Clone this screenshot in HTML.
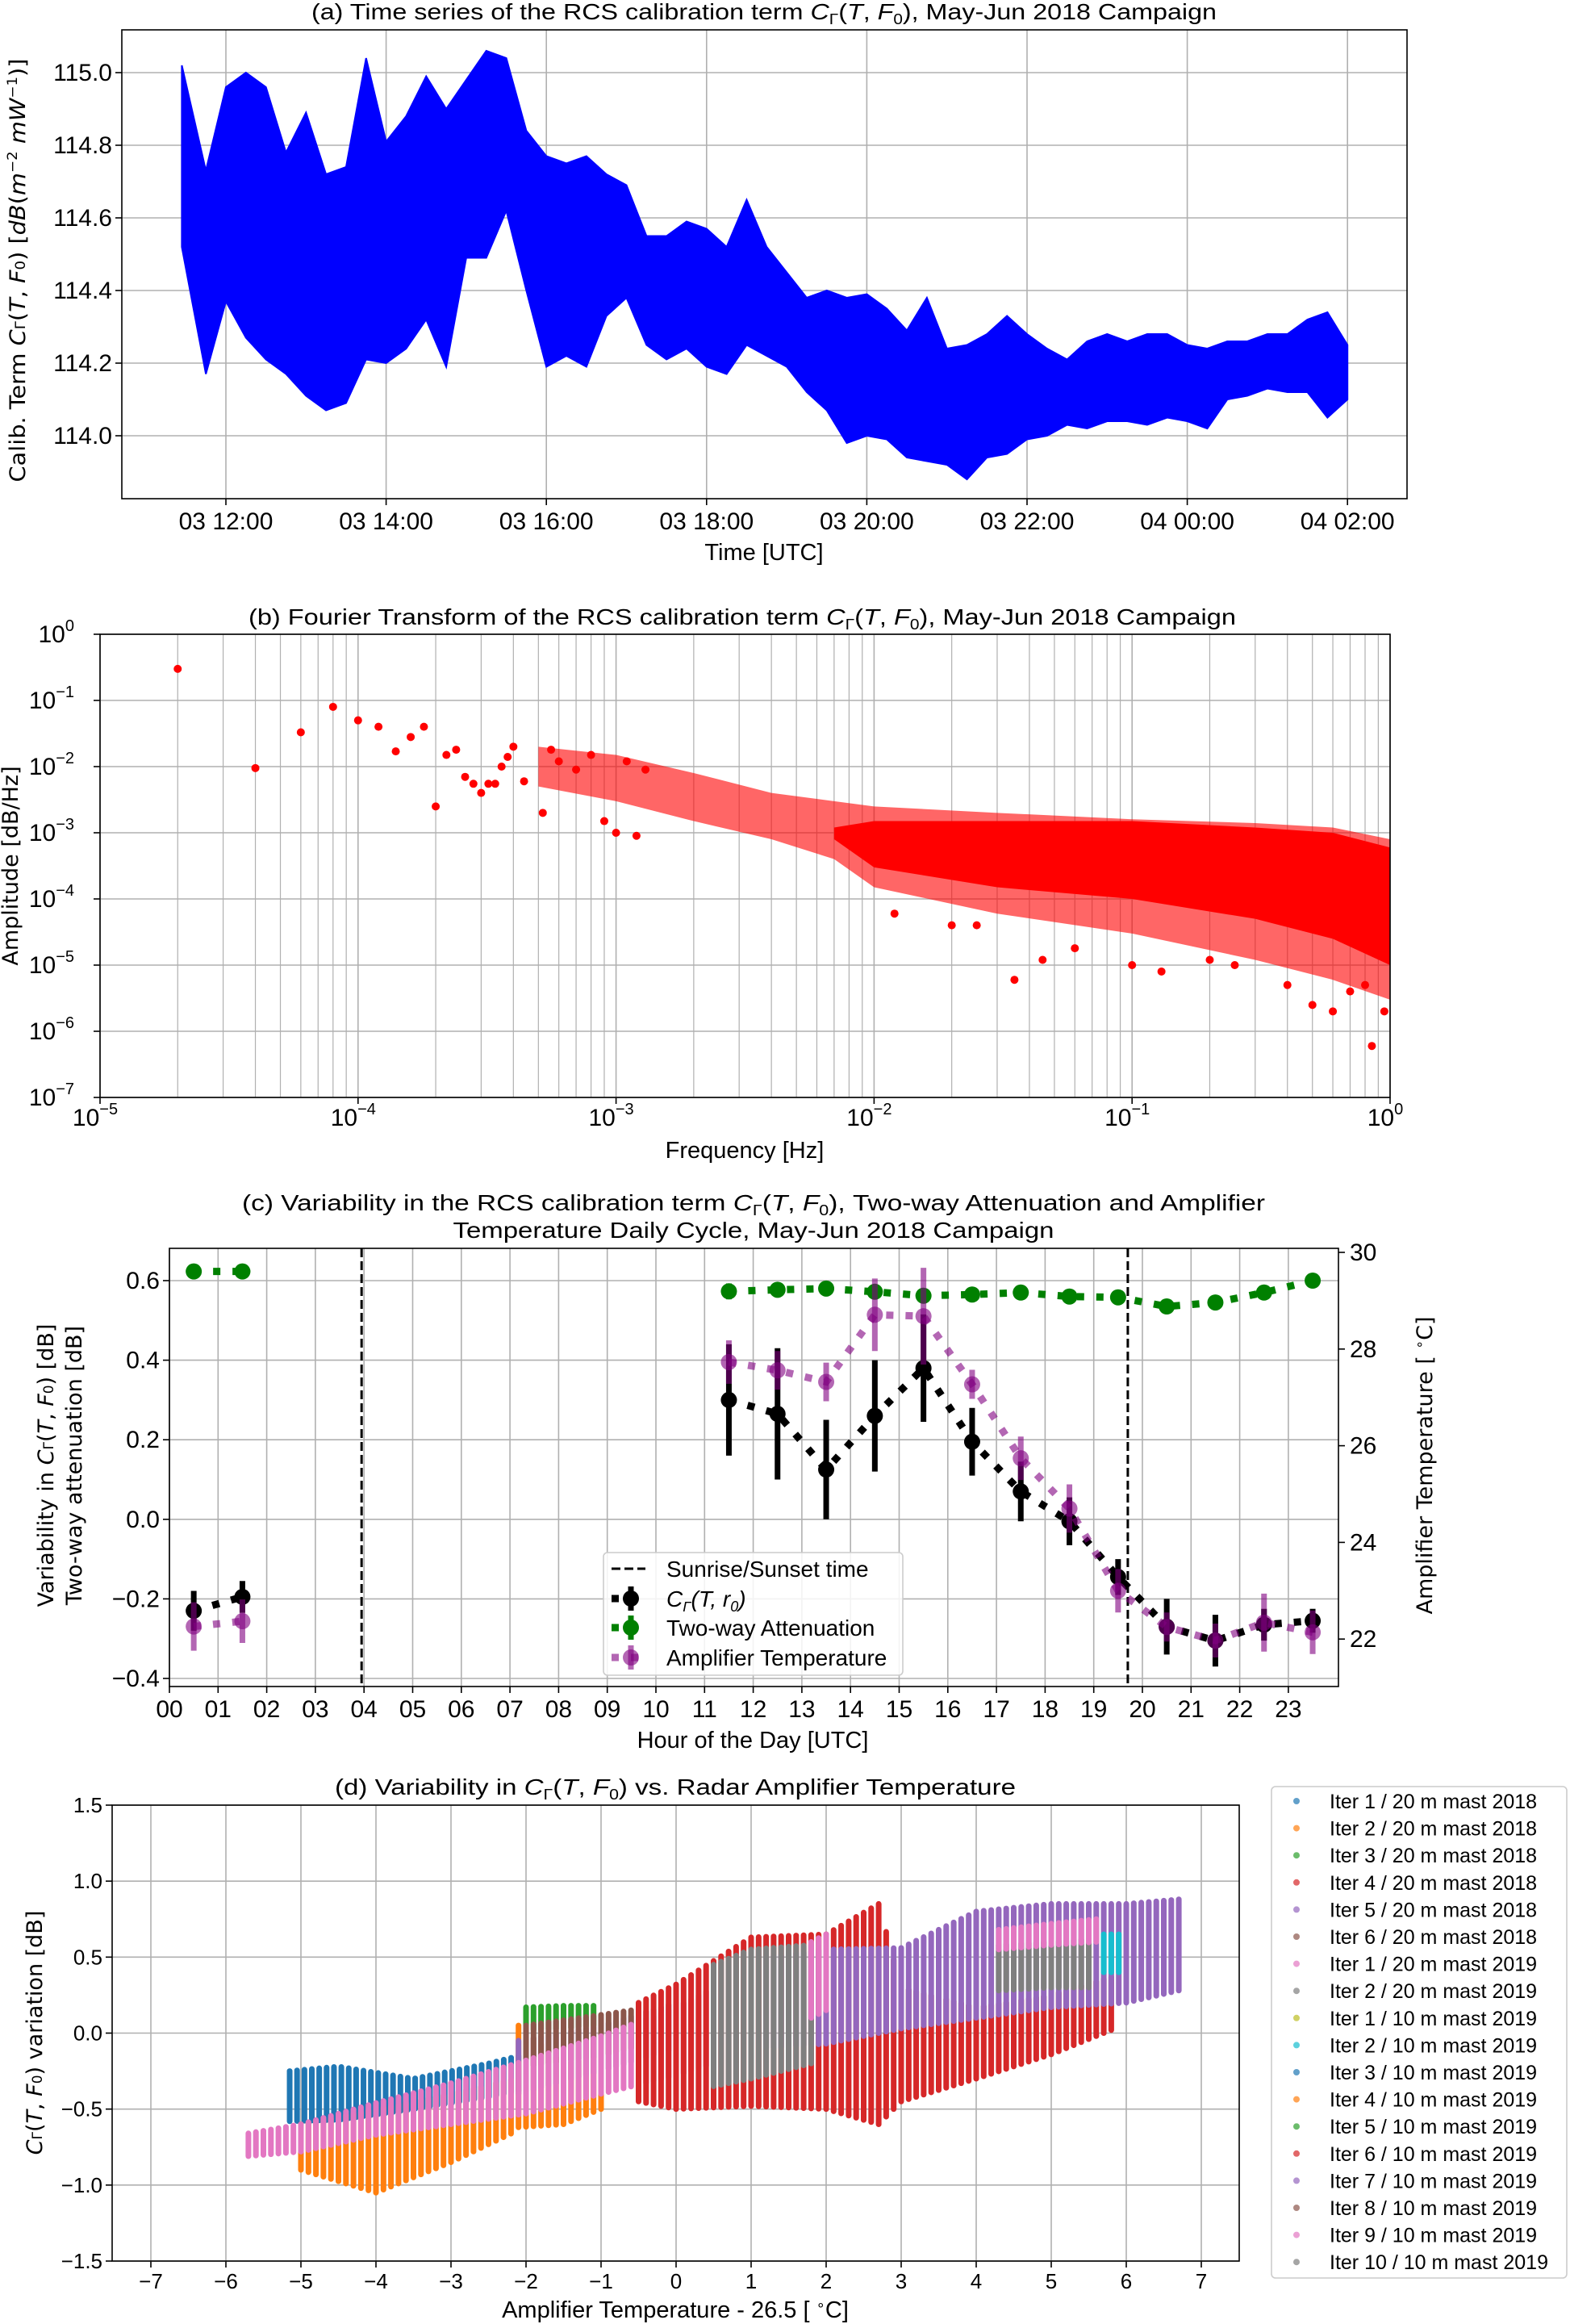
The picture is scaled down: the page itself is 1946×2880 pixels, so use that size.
<!DOCTYPE html>
<html><head><meta charset="utf-8">
<style>
html,body{margin:0;padding:0;background:#fff;}
svg{display:block;}
text{font-family:"Liberation Sans Narrow","Liberation Sans",sans-serif;fill:#000;}
.dv{font-family:"DejaVu Sans","Liberation Sans",sans-serif;}
</style></head>
<body>
<svg id="fig" width="1946" height="2880" viewBox="0 0 1946 2880" xmlns="http://www.w3.org/2000/svg">
<rect x="0" y="0" width="1946" height="2880" fill="#fff"/>
<g id="pa"></g>
<text x="947" y="24" font-size="28" text-anchor="middle" textLength="1122" lengthAdjust="spacingAndGlyphs">(a) Time series of the RCS calibration term <tspan font-style="italic">C</tspan><tspan font-size="18" dy="6">Γ</tspan><tspan dy="-6">(</tspan><tspan font-style="italic">T</tspan>, <tspan font-style="italic">F</tspan><tspan font-size="18" dy="6">0</tspan><tspan dy="-6">), May-Jun 2018 Campaign</tspan></text>
<text x="947" y="694" font-size="29" text-anchor="middle">Time [UTC]</text>
<text class="dv" transform="translate(31,335) rotate(-90)" font-size="27" text-anchor="middle" textLength="525" lengthAdjust="spacingAndGlyphs">Calib. Term <tspan font-style="italic">C</tspan><tspan font-size="17">Γ</tspan>(<tspan font-style="italic">T</tspan>, <tspan font-style="italic">F</tspan><tspan font-size="17">0</tspan>) [<tspan font-style="italic">dB</tspan>(<tspan font-style="italic">m</tspan><tspan font-size="17" dy="-10">−2</tspan><tspan dy="10" font-style="italic"> mW</tspan><tspan font-size="17" dy="-10">−1</tspan><tspan dy="10">)]</tspan></text>
<g id="pb"></g>
<text x="920" y="774" font-size="28" text-anchor="middle" textLength="1224" lengthAdjust="spacingAndGlyphs">(b) Fourier Transform of the RCS calibration term <tspan font-style="italic">C</tspan><tspan font-size="18" dy="6">Γ</tspan><tspan dy="-6">(</tspan><tspan font-style="italic">T</tspan>, <tspan font-style="italic">F</tspan><tspan font-size="18" dy="6">0</tspan><tspan dy="-6">), May-Jun 2018 Campaign</tspan></text>
<text x="923" y="1435" font-size="29" text-anchor="middle">Frequency [Hz]</text>
<text class="dv" transform="translate(22,1073) rotate(-90)" font-size="27" text-anchor="middle">Amplitude [dB/Hz]</text>
<g id="pc"></g>
<text x="934" y="1500" font-size="28" text-anchor="middle" textLength="1268" lengthAdjust="spacingAndGlyphs">(c) Variability in the RCS calibration term <tspan font-style="italic">C</tspan><tspan font-size="18" dy="6">Γ</tspan><tspan dy="-6">(</tspan><tspan font-style="italic">T</tspan>, <tspan font-style="italic">F</tspan><tspan font-size="18" dy="6">0</tspan><tspan dy="-6">), Two-way Attenuation and Amplifier</tspan></text>
<text x="934" y="1534" font-size="28" text-anchor="middle" textLength="745" lengthAdjust="spacingAndGlyphs">Temperature Daily Cycle, May-Jun 2018 Campaign</text>
<text x="933" y="2166" font-size="29" text-anchor="middle">Hour of the Day [UTC]</text>
<text class="dv" transform="translate(66,1816) rotate(-90)" font-size="27" text-anchor="middle">Variability in <tspan font-style="italic">C</tspan><tspan font-size="17">Γ</tspan>(<tspan font-style="italic">T</tspan>, <tspan font-style="italic">F</tspan><tspan font-size="17">0</tspan>) [dB]</text>
<text class="dv" transform="translate(101,1816) rotate(-90)" font-size="27" text-anchor="middle">Two-way attenuation [dB]</text>
<text class="dv" transform="translate(1775,1816) rotate(-90)" font-size="27" text-anchor="middle">Amplifier Temperature [ <tspan font-size="17" dy="-10">∘</tspan><tspan dy="10">C]</tspan></text>
<g id="pd"></g>
<text x="837" y="2224" font-size="28" text-anchor="middle" textLength="844" lengthAdjust="spacingAndGlyphs">(d) Variability in <tspan font-style="italic">C</tspan><tspan font-size="18" dy="6">Γ</tspan><tspan dy="-6">(</tspan><tspan font-style="italic">T</tspan>, <tspan font-style="italic">F</tspan><tspan font-size="18" dy="6">0</tspan><tspan dy="-6">) vs. Radar Amplifier Temperature</tspan></text>
<text x="837" y="2872" font-size="29" text-anchor="middle">Amplifier Temperature - 26.5 [ <tspan font-size="18" dy="-10">∘</tspan><tspan dy="10">C]</tspan></text>
<text class="dv" transform="translate(52,2519) rotate(-90)" font-size="27" text-anchor="middle"><tspan font-style="italic">C</tspan><tspan font-size="17">Γ</tspan>(<tspan font-style="italic">T</tspan>, <tspan font-style="italic">F</tspan><tspan font-size="17">0</tspan>) variation [dB]</text>
</svg>
<script>
var NS='http://www.w3.org/2000/svg';
function mk(parent,tag,attrs){var e=document.createElementNS(NS,tag);for(var k in attrs)e.setAttribute(k,attrs[k]);parent.appendChild(e);return e;}

/* ===== Panel A data (hours after 03 12:00, envelope per 15 min) ===== */
var aHours=[-0.55,-0.25,0,0.25,0.5,0.75,1.0,1.25,1.5,1.75,2.0,2.25,2.5,2.75,3.0,3.25,3.5,3.75,4.0,4.25,4.5,4.75,5.0,5.25,5.5,5.75,6.0,6.25,6.5,6.75,7.0,7.25,7.5,7.75,8.0,8.25,8.5,8.75,9.0,9.25,9.5,9.75,10.0,10.25,10.5,10.75,11.0,11.25,11.5,11.75,12.0,12.25,12.5,12.75,13.0,13.25,13.5,13.75,14.0];
var aMax=[115.02,114.73,114.96,115.0,114.96,114.78,114.89,114.72,114.74,115.04,114.81,114.88,114.99,114.9,114.98,115.06,115.04,114.84,114.77,114.75,114.77,114.72,114.69,114.55,114.55,114.59,114.57,114.52,114.65,114.52,114.45,114.38,114.4,114.38,114.39,114.35,114.29,114.38,114.24,114.25,114.28,114.33,114.28,114.24,114.21,114.26,114.28,114.26,114.28,114.28,114.25,114.24,114.26,114.26,114.28,114.28,114.32,114.34,114.25];
var aMin=[114.52,114.17,114.37,114.27,114.21,114.17,114.11,114.07,114.09,114.21,114.2,114.24,114.32,114.19,114.49,114.49,114.62,114.4,114.19,114.22,114.19,114.33,114.38,114.25,114.21,114.24,114.19,114.17,114.25,114.22,114.19,114.12,114.07,113.98,114.0,113.99,113.94,113.93,113.92,113.88,113.94,113.95,113.99,114.0,114.03,114.02,114.04,114.04,114.03,114.05,114.04,114.02,114.1,114.11,114.13,114.12,114.12,114.05,114.1];
var aYTicks=[114.0,114.2,114.4,114.6,114.8,115.0];
var aXTicks=['03 12:00','03 14:00','03 16:00','03 18:00','03 20:00','03 22:00','04 00:00','04 02:00'];

/* ===== Panel B data ===== */
var bLowF=[2e-5,4e-5,6e-5,8e-5,1e-4,1.2e-4,1.4e-4,1.6e-4,1.8e-4,2e-4,2.2e-4,2.4e-4,2.6e-4,2.8e-4,3e-4,3.2e-4,3.4e-4,3.6e-4,3.8e-4,4e-4,4.4e-4,5.2e-4,5.6e-4,6e-4,7e-4,8e-4,9e-4,1e-3,1.1e-3,1.2e-3,1.3e-3];
var bLowA=[0.3,0.0095,0.033,0.08,0.05,0.04,0.017,0.028,0.04,0.0025,0.015,0.018,0.007,0.0055,0.004,0.0055,0.0055,0.01,0.014,0.02,0.006,0.002,0.018,0.012,0.009,0.015,0.0015,0.001,0.012,0.0009,0.009];
var bEnvF=[5e-4,1e-3,2e-3,4e-3,7e-3,1e-2,3e-2,0.1,0.3,0.6,1];
var bEnvHi=[0.02,0.015,0.008,0.004,0.003,0.0025,0.002,0.0016,0.0014,0.0012,0.0008];
var bEnvLo=[0.005,0.003,0.0015,0.0008,0.0004,0.00015,6e-5,3e-5,1.2e-5,6e-6,3e-6];
var bCoreF=[7e-3,1e-2,3e-2,0.1,0.3,0.6,1];
var bCoreHi=[0.0012,0.0015,0.0015,0.0015,0.0012,0.001,0.0006];
var bCoreLo=[0.0008,0.0003,0.00015,0.0001,5e-5,2.5e-5,1e-5];
var bOutF=[0.012,0.02,0.025,0.035,0.045,0.06,0.1,0.13,0.2,0.25,0.4,0.5,0.6,0.7,0.8,0.85,0.95];
var bOutA=[6e-5,4e-5,4e-5,6e-6,1.2e-5,1.8e-5,1e-5,8e-6,1.2e-5,1e-5,5e-6,2.5e-6,2e-6,4e-6,5e-6,6e-7,2e-6];

/* ===== Panel C data ===== */
var cHours=[0.5,1.5,11.5,12.5,13.5,14.5,15.5,16.5,17.5,18.5,19.5,20.5,21.5,22.5,23.5];
var cVar=[-0.23,-0.195,0.30,0.265,0.125,0.26,0.38,0.195,0.07,-0.005,-0.145,-0.27,-0.305,-0.265,-0.255];
var cVarErr=[0.05,0.04,0.14,0.165,0.125,0.14,0.135,0.085,0.075,0.06,0.045,0.07,0.065,0.04,0.03];
var cAtt=[0.623,0.623,0.573,0.577,0.58,0.572,0.562,0.565,0.57,0.56,0.558,0.535,0.545,0.57,0.6];
var cAttErr=[0.012,0.012,0.02,0.018,0.012,0.012,0.012,0.012,0.012,0.01,0.01,0.012,0.01,0.012,0.012];
var cTemp=[22.26,22.37,27.73,27.56,27.32,28.71,28.68,27.27,25.74,24.70,23.0,22.25,21.97,22.34,22.14];
var cTempErr=[0.5,0.45,0.45,0.4,0.4,0.75,1.0,0.3,0.45,0.5,0.45,0.3,0.35,0.6,0.45];
var cSun=[3.95,19.7];
var cYTicks=[-0.4,-0.2,0.0,0.2,0.4,0.6];
var cRTicks=[22,24,26,28,30];
var cXLabels=['00','01','02','03','04','05','06','07','08','09','10','11','12','13','14','15','16','17','18','19','20','21','22','23'];

/* ===== Panel D data ===== */
var dLegend=['Iter 1 / 20 m mast 2018','Iter 2 / 20 m mast 2018','Iter 3 / 20 m mast 2018','Iter 4 / 20 m mast 2018','Iter 5 / 20 m mast 2018','Iter 6 / 20 m mast 2018','Iter 1 / 20 m mast 2019','Iter 2 / 20 m mast 2019','Iter 1 / 10 m mast 2019','Iter 2 / 10 m mast 2019','Iter 3 / 10 m mast 2019','Iter 4 / 10 m mast 2019','Iter 5 / 10 m mast 2019','Iter 6 / 10 m mast 2019','Iter 7 / 10 m mast 2019','Iter 8 / 10 m mast 2019','Iter 9 / 10 m mast 2019','Iter 10 / 10 m mast 2019'];
var dColors=['#1f77b4','#ff7f0e','#2ca02c','#d62728','#9467bd','#8c564b','#e377c2','#7f7f7f','#bcbd22','#17becf','#1f77b4','#ff7f0e','#2ca02c','#d62728','#9467bd','#8c564b','#e377c2','#7f7f7f'];
var dXTicks=[-7,-6,-5,-4,-3,-2,-1,0,1,2,3,4,5,6,7];
var dYTicks=[-1.5,-1.0,-0.5,0.0,0.5,1.0,1.5];
var dBlueX=[-5.15,-4.5,-3.5,-2.5,-2.1];
var dBlueLo=[-0.58,-0.57,-0.5,-0.42,-0.38];
var dBlueHi=[-0.25,-0.22,-0.3,-0.2,-0.15];
var dOrangeX=[-5.0,-4.0,-3.0,-2.15,-2.1,-1.5,-1.0];
var dOrangeLo=[-0.9,-1.05,-0.85,-0.65,-0.62,-0.6,-0.5];
var dOrangeHi=[-0.6,-0.5,-0.4,-0.3,0.05,-0.2,-0.15];
var dPurpleEX=[-2.1,-1.0,0.0];
var dPurpleELo=[-0.4,-0.25,-0.1];
var dPurpleEHi=[-0.05,0.05,0.2];
var dGreenX=[-2.0,-1.5,-1.1];
var dGreenLo=[0.02,0.03,0.05];
var dGreenHi=[0.17,0.18,0.18];
var dBrownX=[-2.0,-1.0,-0.6];
var dBrownLo=[-0.22,-0.15,-0.1];
var dBrownHi=[0.05,0.12,0.15];
var dRedX=[-0.5,0.0,1.0,2.0,2.7,3.0,4.0,5.0,5.8];
var dRedLo=[-0.45,-0.5,-0.48,-0.5,-0.6,-0.45,-0.3,-0.14,0.02];
var dRedHi=[0.2,0.32,0.63,0.65,0.85,0.3,0.17,0.25,0.37];
var dPurpleX=[1.2,2.0,3.0,4.0,5.0,6.0,6.7];
var dPurpleLo=[-0.1,-0.07,0.03,0.1,0.17,0.2,0.28];
var dPurpleHi=[0.5,0.55,0.56,0.8,0.85,0.85,0.88];
var dGrayX=[0.5,1.0,1.8];
var dGrayLo=[-0.35,-0.3,-0.2];
var dGrayHi=[0.45,0.55,0.58];
var dGray2X=[4.3,5.0,5.5];
var dGray2Lo=[0.28,0.3,0.3];
var dGray2Hi=[0.58,0.6,0.62];
var dPinkX=[-5.7,-5.0,-4.0,-3.0,-2.0,-1.0,0.0,0.5];
var dPinkLo=[-0.81,-0.78,-0.67,-0.6,-0.53,-0.4,-0.28,-0.2];
var dPinkHi=[-0.66,-0.6,-0.46,-0.33,-0.18,-0.02,0.17,0.3];
var dPink3X=[1.8,2.0];
var dPink3Lo=[0.1,0.15];
var dPink3Hi=[0.6,0.65];
var dPink2X=[4.3,5.0,5.6];
var dPink2Lo=[0.55,0.58,0.6];
var dPink2Hi=[0.68,0.72,0.75];
var dCyanX=[5.7,5.9];
var dCyanLo=[0.4,0.4];
var dCyanHi=[0.65,0.65];

var grid='#b0b0b0';

/* ===== Panel A ===== */
(function(){
 var g=document.getElementById('pa');
 var L=151,R=1744,T=37,B=618;
 function X(h){return 280+h*99.3;}
 function Y(v){return 90+(115-v)/0.2*90;}
 for(var i=0;i<aYTicks.length;i++){
  var y=Y(aYTicks[i]);
  var l=mk(g,'line',{x1:L,x2:R,y1:y,y2:y,stroke:grid,'stroke-width':1.6});
  
  
  mk(g,'line',{x1:L-8,x2:L,y1:y,y2:y,stroke:'#000','stroke-width':1.6});
  var t=mk(g,'text',{x:L-12,y:y+10,'font-size':30,'text-anchor':'end'});
  t.textContent=aYTicks[i].toFixed(1);
  
  
 }
 for(var j=0;j<aXTicks.length;j++){
  var x=X(j*2);
  var l2=mk(g,'line',{x1:x,x2:x,y1:T,y2:B,stroke:grid,'stroke-width':1.6});
  
  
  mk(g,'line',{x1:x,x2:x,y1:B,y2:B+8,stroke:'#000','stroke-width':1.6});
  var t2=mk(g,'text',{x:x,y:656,'font-size':30,'text-anchor':'middle'});
  t2.textContent=aXTicks[j];
  
  
 }
 var pts=[];
 for(var k=0;k<aHours.length;k++)pts.push(X(aHours[k])+','+Y(aMax[k]));
 for(var k2=aHours.length-1;k2>=0;k2--)pts.push(X(aHours[k2])+','+Y(aMin[k2]));
 var p=mk(g,'polygon',{points:pts.join(' '),fill:'#0000ff',stroke:'#0000ff','stroke-width':2,'stroke-linejoin':'miter'});
 
 
 var f=mk(g,'rect',{x:L,y:T,width:R-L,height:B-T,fill:'none',stroke:'#000','stroke-width':1.6});
 
 
})();

/* ===== Panel B ===== */
(function(){
 var g=document.getElementById('pb');
 var L=124,R=1723,T=786,B=1360;
 function X(f){return L+(Math.log10(f)+5)*(R-L)/5;}
 function Y(a){return T+(-Math.log10(a))*(B-T)/7;}
 for(var d=-5;d<0;d++){
  for(var m=2;m<10;m++){
   var xm=X(m*Math.pow(10,d));
   var lm=mk(g,'line',{x1:xm,x2:xm,y1:T,y2:B,stroke:grid,'stroke-width':1.2});
   
   
  }
 }
 for(var e=-5;e<=0;e++){
  var x=X(Math.pow(10,e));
  var l=mk(g,'line',{x1:x,x2:x,y1:T,y2:B,stroke:grid,'stroke-width':1.6});
  
  
  mk(g,'line',{x1:x,x2:x,y1:B,y2:B+8,stroke:'#000','stroke-width':1.6});
  var t=mk(g,'text',{x:x-6,y:1395,'font-size':30,'text-anchor':'middle'});
  t.innerHTML='10<tspan font-size="20" dy="-14">'+(e<0?'−'+(-e):'0')+'</tspan>';
  
  
 }
 for(var ey=0;ey>=-7;ey--){
  var y=Y(Math.pow(10,ey));
  var ly=mk(g,'line',{x1:L,x2:R,y1:y,y2:y,stroke:grid,'stroke-width':1.6});
  
  
  mk(g,'line',{x1:L-8,x2:L,y1:y,y2:y,stroke:'#000','stroke-width':1.6});
  var ty=mk(g,'text',{x:L-32,y:y+10,'font-size':30,'text-anchor':'end'});
  ty.innerHTML='10<tspan font-size="20" dy="-14">'+(ey<0?'−'+(-ey):'0')+'</tspan>';
  
  
 }
 var pts=[];
 for(var i=0;i<bEnvF.length;i++)pts.push(X(bEnvF[i])+','+Y(bEnvHi[i]));
 for(var i2=bEnvF.length-1;i2>=0;i2--)pts.push(X(bEnvF[i2])+','+Y(bEnvLo[i2]));
 var env=mk(g,'polygon',{points:pts.join(' '),fill:'#ff0000','fill-opacity':0.6});
 
 
 var pc=[];
 for(var j=0;j<bCoreF.length;j++)pc.push(X(bCoreF[j])+','+Y(bCoreHi[j]));
 for(var j2=bCoreF.length-1;j2>=0;j2--)pc.push(X(bCoreF[j2])+','+Y(bCoreLo[j2]));
 var core=mk(g,'polygon',{points:pc.join(' '),fill:'#ff0000'});
 
 
 for(var k=0;k<bLowF.length;k++){
  var c=mk(g,'circle',{cx:X(bLowF[k]),cy:Y(bLowA[k]),r:5,fill:'#ff0000'});
  
  
 }
 for(var k3=0;k3<bOutF.length;k3++){
  var c2=mk(g,'circle',{cx:X(bOutF[k3]),cy:Y(bOutA[k3]),r:5,fill:'#ff0000'});
  
  
 }
 var f=mk(g,'rect',{x:L,y:T,width:R-L,height:B-T,fill:'none',stroke:'#000','stroke-width':1.6});
 
 
})();

/* ===== Panel C ===== */
(function(){
 var g=document.getElementById('pc');
 var L=210,R=1659,T=1547,B=2090;
 function X(h){return L+h*60.3;}
 function Y(v){return 1587+(0.6-v)*493;}
 function YR(t){return 1552+(30-t)*59.9;}
 for(var i=0;i<cXLabels.length;i++){
  var x=X(i);
  var l=mk(g,'line',{x1:x,x2:x,y1:T,y2:B,stroke:grid,'stroke-width':1.6});
  
  
  mk(g,'line',{x1:x,x2:x,y1:B,y2:B+8,stroke:'#000','stroke-width':1.6});
  var t=mk(g,'text',{x:x,y:2128,'font-size':30,'text-anchor':'middle'});
  t.textContent=cXLabels[i];
  
  
 }
 for(var j=0;j<cYTicks.length;j++){
  var y=Y(cYTicks[j]);
  var ly=mk(g,'line',{x1:L,x2:R,y1:y,y2:y,stroke:grid,'stroke-width':1.6});
  
  
  mk(g,'line',{x1:L-8,x2:L,y1:y,y2:y,stroke:'#000','stroke-width':1.6});
  var ty=mk(g,'text',{x:L-12,y:y+10,'font-size':30,'text-anchor':'end'});
  ty.textContent=(cYTicks[j]<0?'−':'')+Math.abs(cYTicks[j]).toFixed(1);
  
  
 }
 for(var r=0;r<cRTicks.length;r++){
  var yr=YR(cRTicks[r]);
  mk(g,'line',{x1:R,x2:R+8,y1:yr,y2:yr,stroke:'#000','stroke-width':1.6});
  var tr=mk(g,'text',{x:R+14,y:yr+10,'font-size':30});
  tr.textContent=cRTicks[r];
  
  
 }
 for(var s=0;s<cSun.length;s++){
  var ls=mk(g,'line',{x1:X(cSun[s]),x2:X(cSun[s]),y1:T,y2:B,stroke:'#000','stroke-width':3,'stroke-dasharray':'11,5'});
  
  
 }
 function series(vals,errs,yf,col,op,name){
  var segs=[[0,1],[2,vals.length-1]];
  for(var q=0;q<segs.length;q++){
   var pts=[];
   for(var k=segs[q][0];k<=segs[q][1];k++)pts.push(X(cHours[k])+','+yf(vals[k]));
   var pl=mk(g,'polyline',{points:pts.join(' '),fill:'none',stroke:col,'stroke-opacity':op,'stroke-width':9,'stroke-dasharray':'9,15'});
   
   
  }
  for(var k2=0;k2<vals.length;k2++){
   var x=X(cHours[k2]);
   var eb=mk(g,'line',{x1:x,x2:x,y1:yf(vals[k2]+errs[k2]),y2:yf(vals[k2]-errs[k2]),stroke:col,'stroke-opacity':op,'stroke-width':7});
   
   
   var c=mk(g,'circle',{cx:x,cy:yf(vals[k2]),r:10,fill:col,'fill-opacity':op});
   
   
  }
 }
 series(cAtt,cAttErr,Y,'#008000',1,'attenuation');
 series(cVar,cVarErr,Y,'#000000',1,'calibration-variability');
 series(cTemp,cTempErr,YR,'#800080',0.6,'amplifier-temperature');
 var f=mk(g,'rect',{x:L,y:T,width:R-L,height:B-T,fill:'none',stroke:'#000','stroke-width':1.6});
 
 
 var lg=mk(g,'g',{});
 
 
 mk(lg,'rect',{x:748,y:1924,width:371,height:152,rx:5,fill:'#fff','fill-opacity':0.85,stroke:'#ccc','stroke-width':1.6});
 var rows=[1944,1981,2017,2054];
 var lab=['Sunrise/Sunset time','C<tspan font-size="18" dy="6">Γ</tspan><tspan dy="-6">(T, r</tspan><tspan font-size="18" dy="6">0</tspan><tspan dy="-6">)</tspan>','Two-way Attenuation','Amplifier Temperature'];
 var lc=['#000','#000','#008000','#800080'];
 for(var m=0;m<4;m++){
  var yy=rows[m];
  if(m==0){mk(lg,'line',{x1:758,x2:800,y1:yy,y2:yy,stroke:'#000','stroke-width':3,'stroke-dasharray':'11,5'});}
  else{
   var op2=m==3?0.6:1;
   mk(lg,'line',{x1:758,x2:806,y1:yy,y2:yy,stroke:lc[m],'stroke-opacity':op2,'stroke-width':9,'stroke-dasharray':'9,15'});
   mk(lg,'line',{x1:782,x2:782,y1:yy-15,y2:yy+15,stroke:lc[m],'stroke-opacity':op2,'stroke-width':7});
   mk(lg,'circle',{cx:782,cy:yy,r:10,fill:lc[m],'fill-opacity':op2});
  }
  var lt=mk(lg,'text',{x:826,y:yy+10,'font-size':28,'font-style':m==1?'italic':'normal'});
  lt.innerHTML=lab[m];
  
  
 }
})();

/* ===== Panel D ===== */
(function(){
 var g=document.getElementById('pd');
 var L=139,R=1536,T=2237,B=2802;
 function X(u){return 187+(u+7)*93;}
 function Y(v){return T+(1.5-v)*(B-T)/3;}
 for(var i=0;i<dXTicks.length;i++){
  var x=X(dXTicks[i]);
  var l=mk(g,'line',{x1:x,x2:x,y1:T,y2:B,stroke:grid,'stroke-width':1.6});
  
  
  mk(g,'line',{x1:x,x2:x,y1:B,y2:B+8,stroke:'#000','stroke-width':1.6});
  var t=mk(g,'text',{x:x,y:2836,'font-size':26,'text-anchor':'middle'});
  t.textContent=(dXTicks[i]<0?'−':'')+Math.abs(dXTicks[i]);
  
  
 }
 for(var j=0;j<dYTicks.length;j++){
  var y=Y(dYTicks[j]);
  var ly=mk(g,'line',{x1:L,x2:R,y1:y,y2:y,stroke:grid,'stroke-width':1.6});
  
  
  mk(g,'line',{x1:L-8,x2:L,y1:y,y2:y,stroke:'#000','stroke-width':1.6});
  var ty=mk(g,'text',{x:L-12,y:y+9,'font-size':26,'text-anchor':'end'});
  ty.textContent=(dYTicks[j]<0?'−':'')+Math.abs(dYTicks[j]).toFixed(1);
  
  
 }
 function interp(xs,ys,u){
  if(u<=xs[0])return ys[0];
  for(var k=1;k<xs.length;k++){if(u<=xs[k]){var t=(u-xs[k-1])/(xs[k]-xs[k-1]);return ys[k-1]+t*(ys[k]-ys[k-1]);}}
  return ys[ys.length-1];
 }
 function band(xs,lo,hi,col,name){
  var grp=mk(g,'g',{});
  
  
  var x0=xs[0],x1=xs[xs.length-1];
  var n=Math.max(1,Math.round((x1-x0)/0.1));
  for(var k=0;k<=n;k++){
   var u=x0+(x1-x0)*k/n;
   var ya=Y(interp(xs,hi,u)),yb=Y(interp(xs,lo,u));
   mk(grp,'line',{x1:X(u),x2:X(u),y1:ya,y2:yb,stroke:col,'stroke-width':7,'stroke-linecap':'round'});
  }
 }
 band(dBlueX,dBlueLo,dBlueHi,'#1f77b4','scatter-iter1-20m-2018');
 band(dOrangeX,dOrangeLo,dOrangeHi,'#ff7f0e','scatter-iter2-20m-2018');
 band(dPurpleEX,dPurpleELo,dPurpleEHi,'#9467bd','scatter-iter5-20m-2018-low');
 band(dGreenX,dGreenLo,dGreenHi,'#2ca02c','scatter-iter3-20m-2018');
 band(dBrownX,dBrownLo,dBrownHi,'#8c564b','scatter-iter6-20m-2018');
 band(dPinkX,dPinkLo,dPinkHi,'#e377c2','scatter-iter1-20m-2019');
 band(dRedX,dRedLo,dRedHi,'#d62728','scatter-iter4-20m-2018');
 band(dPurpleX,dPurpleLo,dPurpleHi,'#9467bd','scatter-iter5-20m-2018');
 band(dGrayX,dGrayLo,dGrayHi,'#7f7f7f','scatter-iter2-20m-2019');
 band(dPink3X,dPink3Lo,dPink3Hi,'#e377c2','scatter-iter9-10m-2019-mid');
 band(dGray2X,dGray2Lo,dGray2Hi,'#7f7f7f','scatter-iter10-10m-2019');
 band(dPink2X,dPink2Lo,dPink2Hi,'#e377c2','scatter-iter9-10m-2019');
 band(dCyanX,dCyanLo,dCyanHi,'#17becf','scatter-iter2-10m-2019');
 var f=mk(g,'rect',{x:L,y:T,width:R-L,height:B-T,fill:'none',stroke:'#000','stroke-width':1.6});
 
 
 var lg=mk(g,'g',{});
 
 
 mk(lg,'rect',{x:1576,y:2214,width:366,height:609,rx:5,fill:'#fff',stroke:'#ccc','stroke-width':1.6});
 for(var m=0;m<dLegend.length;m++){
  var yy=2232+m*33.6;
  var c=mk(lg,'circle',{cx:1607,cy:yy,r:4,fill:dColors[m],'fill-opacity':0.7});
  
  
  var t2=mk(lg,'text',{x:1648,y:yy+9,'font-size':25});
  t2.textContent=dLegend[m];
  
  
 }
})();
</script>
</body></html>
